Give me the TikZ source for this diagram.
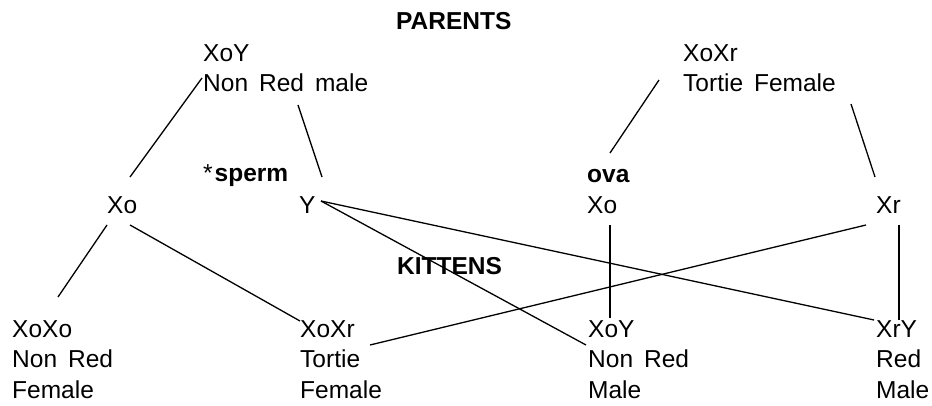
\documentclass[tikz,border=0pt]{standalone}
\usepackage{fontspec}
\setmainfont{Liberation Sans}
\begin{document}
\begin{tikzpicture}[x=1pt,y=-1pt,
  txt/.style={anchor=base west,inner sep=0pt,font={\fontsize{24.5}{29}\selectfont\spaceskip 11pt\relax}},
  bt/.style={anchor=base west,inner sep=0pt,font={\fontsize{24.5}{29}\selectfont\bfseries}},
  link/.style={line width=1.3pt}]
\useasboundingbox (0,0) rectangle (932,406);
% headings
\node[bt] (parents) at (396,30) {PARENTS};
\node[bt] (kittens) at (397,275) {KITTENS};
% parents
\node[txt] (fa) at (203,61.5) {XoY};
\node[txt] (fb) at (203,92) {Non Red male};
\node[txt] (ma) at (683,61.5) {XoXr};
\node[txt] (mb) at (683,92) {Tortie Female};
% gametes
\node[txt] (sperm) at (203,182) {*\hspace{2pt}\textbf{sperm}};
\node[bt] (ova) at (587,183) {ova};
\node[txt] (sxo) at (107,214) {Xo};
\node[txt] (sy) at (299,214) {Y};
\node[txt] (oxo) at (587,214) {Xo};
\node[txt] (oxr) at (876,214) {Xr};
% kittens
\node[txt] (k1a) at (12,337) {XoXo};
\node[txt] (k1b) at (12,367) {Non Red};
\node[txt] (k1c) at (12,398) {Female};
\node[txt] (k2a) at (300,337) {XoXr};
\node[txt] (k2b) at (300,367) {Tortie};
\node[txt] (k2c) at (300,398) {Female};
\node[txt] (k3a) at (588,337) {XoY};
\node[txt] (k3b) at (588,367) {Non Red};
\node[txt] (k3c) at (588,398) {Male};
\node[txt] (k4a) at (876,337) {XrY};
\node[txt] (k4b) at (876,367) {Red};
\node[txt] (k4c) at (876,398) {Male};
% connector end points
\coordinate (fL) at (202,78);   \coordinate (sxoT) at (130,177);
\coordinate (fR) at (298,105);  \coordinate (syT) at (322,177);
\coordinate (mL) at (659,80);   \coordinate (ovaT) at (610,153);
\coordinate (mR) at (851,104);  \coordinate (oxrT) at (875,177);
\coordinate (sxoL) at (107,225); \coordinate (k1T) at (58,297);
\coordinate (sxoR) at (130,225); \coordinate (k2T) at (300,321);
\coordinate (syR) at (321,201);
\coordinate (k4T) at (874,320);
\coordinate (k3L) at (586,345);
\coordinate (oxrL) at (866,225); \coordinate (k2R) at (370,345);
\coordinate (oxoB) at (610,225); \coordinate (k3T) at (610,318);
\coordinate (oxrB) at (899,225); \coordinate (k4R) at (899,320);
% connectors
\draw[link] (fL) -- (sxoT);
\draw[link] (fR) -- (syT);
\draw[link] (mL) -- (ovaT);
\draw[link] (mR) -- (oxrT);
\draw[link] (sxoL) -- (k1T);
\draw[link] (sxoR) -- (k2T);
\draw[link] (syR) -- (k4T);
\draw[link] (syR) -- (k3L);
\draw[link] (oxrL) -- (k2R);
\draw[link] (oxoB) -- (k3T);
\draw[link] (oxrB) -- (k4R);
\end{tikzpicture}
\end{document}
